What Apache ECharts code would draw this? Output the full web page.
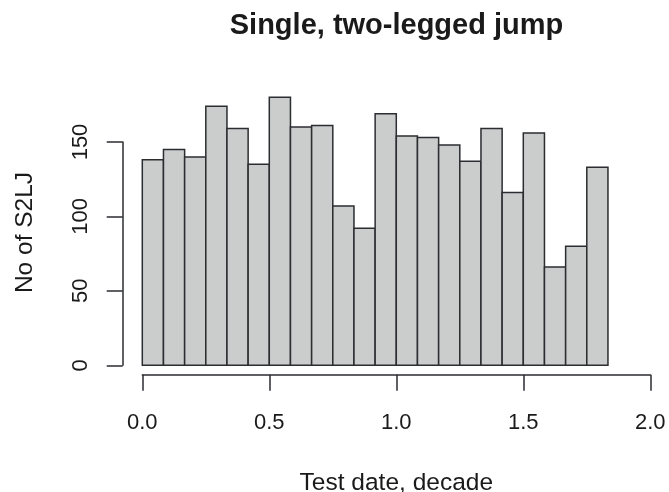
<!DOCTYPE html>
<html>
<head>
<meta charset="utf-8">
<script src="https://cdn.jsdelivr.net/npm/echarts@6/dist/echarts.min.js"></script>
<style>
html,body{margin:0;padding:0;background:#fff;}
#chart{width:669px;height:492px;}
</style>
</head>
<body>
<div id="chart"></div>
<script>
// ---- data ----
var titleText = 'Single, two-legged jump';
var xAxisTitle = 'Test date, decade';
var yAxisTitle = 'No of S2LJ';
var binStart = 0;
var binWidth = 1 / 12;           // histogram bin width (decades)
var binCounts = [138, 145, 140, 174, 159, 135, 180, 160, 161, 107, 92,
                 169, 154, 153, 148, 137, 159, 116, 156, 66, 80, 133];
var xTicks = [0, 0.5, 1, 1.5, 2];
var yTicks = [0, 50, 100, 150];

var bins = binCounts.map(function (c, i) {
  var lo = binStart + i * binWidth;
  return [lo, lo + binWidth, c];
});

var FONT = '"Liberation Sans", Arial, Helvetica, sans-serif';
var TXT = '#1a1a1a';
var LINE = '#2b2d30';

var chart = echarts.init(document.getElementById('chart'), null, {renderer: 'canvas'});
chart.setOption({
  animation: false,
  backgroundColor: '#ffffff',
  title: {
    text: titleText,
    left: 396.5, top: 11, padding: 0,
    textAlign: 'center',
    textStyle: {fontFamily: FONT, fontWeight: 'bold', fontSize: 29, color: TXT}
  },
  grid: {left: 142.3, right: 18.7, top: 142, bottom: 126.7,
         containLabel: false, outerBoundsMode: 'none'},
  xAxis: {
    type: 'value',
    min: xTicks[0], max: xTicks[xTicks.length - 1], interval: 0.5,
    offset: 9.4,
    splitLine: {show: false},
    axisLine: {show: true, onZero: false, lineStyle: {color: LINE, width: 1.5}},
    axisTick: {show: true, length: 16, inside: false, lineStyle: {color: LINE, width: 1.5}},
    axisLabel: {
      margin: 37, color: TXT, fontFamily: FONT, fontSize: 22,
      formatter: function (v) { return v.toFixed(1); }
    },
    name: xAxisTitle, nameLocation: 'middle', nameGap: 96,
    nameTextStyle: {fontFamily: FONT, fontSize: 24.5, color: TXT}
  },
  yAxis: {
    type: 'value',
    min: yTicks[0], max: yTicks[yTicks.length - 1], interval: 50,
    offset: 19.6,
    splitLine: {show: false},
    axisLine: {show: true, onZero: false, lineStyle: {color: LINE, width: 1.5}},
    axisTick: {show: true, length: 16, inside: false, lineStyle: {color: LINE, width: 1.5}},
    axisLabel: {margin: 31, rotate: 90, color: TXT, fontFamily: FONT, fontSize: 22}
  },
  graphic: [{
    type: 'text', x: 25, y: 232.5, rotation: Math.PI / 2,
    style: {text: yAxisTitle, textAlign: 'center', textVerticalAlign: 'middle',
            font: '24.5px ' + FONT, fill: TXT}
  }],
  series: [{
    type: 'custom',
    clip: false,
    data: bins,
    encode: {x: [0, 1], y: 2},
    renderItem: function (params, api) {
      var p0 = api.coord([api.value(0), 0]);
      var p1 = api.coord([api.value(1), api.value(2)]);
      return {
        type: 'rect',
        shape: {x: p0[0], y: p1[1], width: p1[0] - p0[0], height: p0[1] - p1[1]},
        style: {fill: '#cbcccc', stroke: LINE, lineWidth: 1.5}
      };
    }
  }]
});
</script>
</body>
</html>
